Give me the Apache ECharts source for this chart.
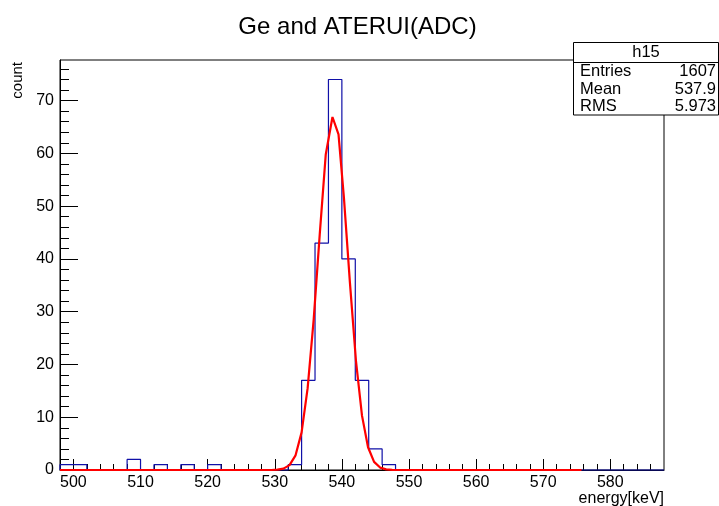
<!DOCTYPE html>
<html>
<head>
<meta charset="utf-8">
<script src="https://cdn.jsdelivr.net/npm/echarts@6/dist/echarts.min.js"></script>
<style>
html,body{margin:0;padding:0;background:#fff;}
#chart{width:719px;height:506px;}
</style>
</head>
<body>
<div id="chart"></div>
<script>
// ---- data ----
const chartTitle = 'Ge and ATERUI(ADC)';
const xAxisName = 'energy[keV]';
const yAxisName = 'count';
const binStart = 498;      // low edge of first bin (keV)
const binWidth = 2;        // keV
const binCounts = [1, 1, 0, 0, 0, 2, 0, 1, 0, 1, 0, 1, 0, 0, 0, 0, 0, 1, 17, 43,
                   74, 40, 17, 4, 1, 0, 0, 0, 0, 0, 0, 0, 0, 0, 0, 0, 0, 0, 0, 0,
                   0, 0, 0, 0, 0];
const fitX = [498, 529.5, 530.4, 531.3, 532.2, 533.1, 534.0, 534.9, 535.8, 536.7, 537.6, 538.6,
              539.5, 540.3, 541.2, 542.1, 543.0, 543.9, 544.8, 545.7, 546.6, 547.5, 548.4, 575.7];
const fitY = [0, 0, 0.06, 0.26, 0.92, 2.78, 7.13, 15.5, 28.5, 44.6, 59.8, 66.9,
              63.6, 51.7, 35.5, 20.7, 10.3, 4.31, 1.54, 0.46, 0.12, 0.03, 0, 0];
const xMajorTicks = [500, 510, 520, 530, 540, 550, 560, 570, 580];
const xMinorTicks = [498, 500, 502, 504, 506, 508, 510, 512, 514, 516, 518, 520, 522, 524, 526, 528,
                     530, 532, 534, 536, 538, 540, 542, 544, 546, 548, 550, 552, 554, 556, 558, 560,
                     562, 564, 566, 568, 570, 572, 574, 576, 578, 580, 582, 584, 586];
const yMajorTicks = [0, 10, 20, 30, 40, 50, 60, 70];
const yMinorTicks = [2, 4, 6, 8, 12, 14, 16, 18, 22, 24, 26, 28, 32, 34, 36, 38, 42, 44, 46, 48,
                     52, 54, 56, 58, 62, 64, 66, 68, 72, 74, 76];
const xMin = 498, xMax = 588, yMin = 0, yMax = 77.7;
const statsName = 'h15';
const statsLabels = ['Entries', 'Mean', 'RMS'];
const statsValues = ['1607', '537.9', '5.973'];

// ---- build step outline from bins ----
const stepPts = [[binStart, 0]];
binCounts.forEach((c, i) => {
  const lo = binStart + i * binWidth, hi = lo + binWidth;
  stepPts.push([lo, c]);
  stepPts.push([hi, c]);
});
stepPts.push([binStart + binCounts.length * binWidth, 0]);
const fitPts = fitX.map((x, i) => [x, fitY[i]]);

const FONT = 'Liberation Sans, Arial, Helvetica, sans-serif';
const chart = echarts.init(document.getElementById('chart'), null, {renderer: 'canvas'});

const gridL = 60, gridT = 60, gridR = 55, gridB = 36;
const statsTexts = [];
statsLabels.forEach((lab, i) => {
  const cy = 71.5 + i * 17.7;
  statsTexts.push({type: 'text', z: 101, x: 580, y: cy,
    style: {text: lab, font: '16.5px ' + FONT, fill: '#000', align: 'left', verticalAlign: 'middle'}});
  statsTexts.push({type: 'text', z: 101, x: 716, y: cy,
    style: {text: statsValues[i], font: '16.5px ' + FONT, fill: '#000', align: 'right', verticalAlign: 'middle'}});
});

chart.setOption({
  animation: false,
  backgroundColor: '#fff',
  grid: {left: gridL, top: gridT, right: gridR, bottom: gridB, show: true,
         borderColor: '#000', borderWidth: 1, backgroundColor: 'transparent'},
  xAxis: [
    {type: 'value', min: xMin, max: xMax, position: 'bottom',
     axisLine: {show: true, onZero: false, lineStyle: {color: '#000', width: 1}},
     axisTick: {show: true, inside: true, length: 11, customValues: xMajorTicks, lineStyle: {color: '#000'}},
     axisLabel: {show: true, customValues: xMajorTicks, margin: 5, color: '#000',
                 fontFamily: FONT, fontSize: 16},
     splitLine: {show: false}},
    {type: 'value', min: xMin, max: xMax, position: 'bottom',
     axisLine: {show: false},
     axisTick: {show: true, inside: true, length: 6, customValues: xMinorTicks, lineStyle: {color: '#000'}},
     axisLabel: {show: false},
     splitLine: {show: false}}
  ],
  yAxis: [
    {type: 'value', min: yMin, max: yMax, position: 'left',
     axisLine: {show: true, onZero: false, lineStyle: {color: '#000', width: 1}},
     axisTick: {show: true, inside: true, length: 18, customValues: yMajorTicks, lineStyle: {color: '#000'}},
     axisLabel: {show: true, customValues: yMajorTicks, margin: 6, color: '#000',
                 fontFamily: FONT, fontSize: 16},
     splitLine: {show: false}},
    {type: 'value', min: yMin, max: yMax, position: 'left',
     axisLine: {show: false},
     axisTick: {show: true, inside: true, length: 9, customValues: yMinorTicks, lineStyle: {color: '#000'}},
     axisLabel: {show: false},
     splitLine: {show: false}}
  ],
  series: [
    {type: 'line', xAxisIndex: 0, yAxisIndex: 0, data: stepPts, showSymbol: false,
     lineStyle: {color: '#1010a8', width: 1.2}, clip: false, z: 3},
    {type: 'line', xAxisIndex: 0, yAxisIndex: 0, data: fitPts, showSymbol: false,
     lineStyle: {color: '#ff0000', width: 2.2}, clip: false, z: 4}
  ],
  graphic: [
    {type: 'text', x: 357.5, y: 27,
     style: {text: chartTitle, font: '24px ' + FONT, fill: '#000', align: 'center', verticalAlign: 'middle'}},
    {type: 'text', x: 664, y: 499,
     style: {text: xAxisName, font: '16px ' + FONT, fill: '#000', align: 'right', verticalAlign: 'middle'}},
    {type: 'text', x: 18, y: 62, rotation: Math.PI / 2,
     style: {text: yAxisName, font: '15px ' + FONT, fill: '#000', align: 'right', verticalAlign: 'middle'}},
    {type: 'rect', z: 100, shape: {x: 573.5, y: 42.5, width: 145, height: 72.5},
     style: {fill: '#fff', stroke: '#000', lineWidth: 1}},
    {type: 'line', z: 101, shape: {x1: 573.5, y1: 62.5, x2: 718.5, y2: 62.5},
     style: {stroke: '#000', lineWidth: 1}},
    {type: 'text', z: 101, x: 646, y: 52.5,
     style: {text: statsName, font: '16.5px ' + FONT, fill: '#000', align: 'center', verticalAlign: 'middle'}}
  ].concat(statsTexts)
});
</script>
</body>
</html>
